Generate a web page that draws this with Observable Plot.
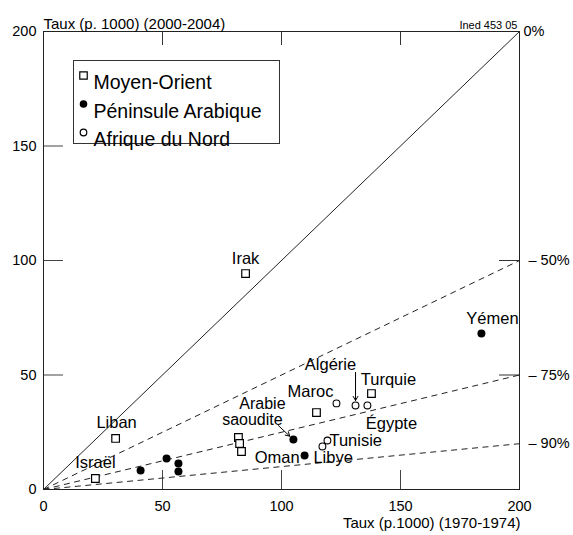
<!DOCTYPE html>
<html><head><meta charset="utf-8">
<script src="https://cdn.jsdelivr.net/npm/d3@7"></script>
<script src="https://cdn.jsdelivr.net/npm/@observablehq/plot@0.6"></script>
<style>body{margin:0;background:#fff} svg{font-family:"Liberation Sans",Arial,Helvetica,sans-serif}</style>
</head><body><div id="chart"></div>
<script>
const regions = ["Moyen-Orient", "Péninsule Arabique", "Afrique du Nord"];

// Taux (p.1000): x = 1970-1974, y = 2000-2004
const moyenOrient = [
  {pays: "Irak", x: 84.9, y: 94.3},
  {pays: "Liban", x: 30.3, y: 22.3},
  {pays: "Israël", x: 21.8, y: 4.8},
  {pays: "Turquie", x: 137.8, y: 41.9},
  {pays: "", x: 114.7, y: 33.6},
  {pays: "", x: 81.9, y: 22.7},
  {pays: "", x: 82.4, y: 20.1},
  {pays: "", x: 83.2, y: 16.6}
];
const peninsule = [
  {pays: "Yémen", x: 184.0, y: 68.1},
  {pays: "Arabie saoudite", x: 105.0, y: 21.8},
  {pays: "Oman", x: 109.7, y: 14.8},
  {pays: "", x: 40.8, y: 8.3},
  {pays: "", x: 51.7, y: 13.5},
  {pays: "", x: 56.7, y: 11.4},
  {pays: "", x: 56.7, y: 7.9}
];
const afriqueNord = [
  {pays: "Maroc", x: 123.1, y: 37.6},
  {pays: "Algérie", x: 131.1, y: 36.7},
  {pays: "Égypte", x: 136.1, y: 36.7},
  {pays: "Tunisie", x: 119.3, y: 21.4},
  {pays: "Libye", x: 117.2, y: 18.8}
];

const xTicks = [0, 50, 100, 150, 200];
const yTicks = [0, 50, 100, 150, 200];
const reductions = [0, -50, -75, -90];   // reference lines: y = x * (1 + r/100)
const rightLabels = ["0%", "– 50%", "– 75%", "– 90%"];
const arrows = [
  {pays: "Algérie", x1: 131.1, y1: 51.1},
  {pays: "Arabie saoudite", x1: 98.7, y1: 27.9}
];

// label placement (style, in pixels); multi-line labels are split into lines
const labelStyle = [
  {pays: "Irak", text: "Irak", dx: 0, dy: -15, anchor: "middle", size: 16.5},
  {pays: "Liban", text: "Liban", dx: 1, dy: -16, anchor: "middle", size: 16.5},
  {pays: "Israël", text: "Israël", dx: 0, dy: -16, anchor: "middle", size: 16.5},
  {pays: "Turquie", text: "Turquie", dx: 17, dy: -14, anchor: "middle", size: 16.5},
  {pays: "Yémen", text: "Yémen", dx: 11, dy: -15, anchor: "middle", size: 16.5},
  {pays: "Arabie saoudite", text: "Arabie", dx: -31, dy: -36, anchor: "middle", size: 16},
  {pays: "Arabie saoudite", text: "saoudite", dx: -41, dy: -20, anchor: "middle", size: 16},
  {pays: "Oman", text: "Oman", dx: -5, dy: 2, anchor: "end", size: 16.5},
  {pays: "Maroc", text: "Maroc", dx: -26, dy: -12, anchor: "middle", size: 16.5},
  {pays: "Algérie", text: "Algérie", dx: -25, dy: -41, anchor: "middle", size: 16.5},
  {pays: "Égypte", text: "Égypte", dx: 24, dy: 18, anchor: "middle", size: 16.5},
  {pays: "Tunisie", text: "Tunisie", dx: 2, dy: 0, anchor: "start", size: 16.5},
  {pays: "Libye", text: "Libye", dx: -9, dy: 11, anchor: "start", size: 16.5}
];

const W = 573, H = 535, mL = 43, mR = 54, mT = 31, mB = 46;
const pw = W - mL - mR, ph = H - mT - mB;
const all = [...moyenOrient, ...peninsule, ...afriqueNord];
const lookup = new Map(all.map(d => [d.pays, d]));

const labelMarks = labelStyle.map(s => {
  const d = lookup.get(s.pays);
  return Plot.text([d], {x: "x", y: "y", text: () => s.text, dx: s.dx, dy: s.dy, textAnchor: s.anchor,
    fontSize: s.size, fill: "black"});
});

const arrowData = arrows.map(a => ({...a, x2: lookup.get(a.pays).x, y2: lookup.get(a.pays).y}));

const legendMarks = [];
const legendSym = [
  {symbol: "square", fill: "white", stroke: "black", r: 4.2},
  {symbol: "circle", fill: "black", stroke: "none", r: 3.8},
  {symbol: "circle", fill: "white", stroke: "black", r: 3.3}
];
regions.forEach((reg, i) => {
  const s = legendSym[i];
  const dy = 44 + i * 28.5;
  legendMarks.push(Plot.dot([reg], {frameAnchor: "top-left", dx: 40, dy, symbol: s.symbol, r: s.r, fill: s.fill, stroke: s.stroke, strokeWidth: 1.2}));
  legendMarks.push(Plot.text([reg], {frameAnchor: "top-left", dx: 50, dy: dy, text: d => d, textAnchor: "start", fontSize: 19.5, fill: "black"}));
});

const chart = Plot.plot({
  width: W, height: H,
  marginLeft: mL, marginRight: mR, marginTop: mT, marginBottom: mB,
  x: {domain: [0, 200]},
  y: {domain: [0, 200]},
  style: {fontFamily: '"Liberation Sans", Arial, Helvetica, sans-serif', fontSize: "14.5px", color: "black", background: "white"},
  marks: [
    Plot.axisX({ticks: xTicks, tickSize: 0, tickPadding: 11, label: null, fontSize: 14.5}),
    Plot.axisY({ticks: yTicks, tickSize: 0, tickPadding: 7, label: null, fontSize: 14.5}),
    // inward ticks
    Plot.tickX(xTicks.slice(1, -1), {x: d => d, insetTop: ph - 19, stroke: "#444"}),
    Plot.tickX(xTicks.slice(1, -1), {x: d => d, insetBottom: ph - 14, stroke: "#333"}),
    Plot.tickY(yTicks.slice(1, -1), {y: d => d, insetRight: pw - 20, stroke: "#444"}),
    Plot.tickY(reductions.filter(r => r === -50 || r === -75), {y: r => 200 * (1 + r / 100), insetLeft: pw - 20, stroke: "#333"}),
    // reference lines
    Plot.link(reductions.filter(r => r === 0), {x1: 0, y1: 0, x2: 200, y2: r => 200 * (1 + r / 100), stroke: "#222", strokeWidth: 1}),
    Plot.link(reductions.filter(r => r !== 0), {x1: 0, y1: 0, x2: 200, y2: r => 200 * (1 + r / 100), stroke: "#222", strokeWidth: 1, strokeDasharray: "6,4.5"}),
    Plot.frame({stroke: "#222", strokeWidth: 1}),
    // right labels
    Plot.text(reductions.filter(r => r === 0), {x: 200, y: r => 200 * (1 + r / 100), text: () => rightLabels[0], textAnchor: "start", dx: 4, fontSize: 14.5, fill: "black"}),
    Plot.text(reductions.filter(r => r !== 0), {x: 200, y: r => 200 * (1 + r / 100), text: (r, i) => rightLabels[i + 1], textAnchor: "start", dx: 9, fontSize: 14.5, fill: "black"}),
    // points
    Plot.dot(moyenOrient, {x: "x", y: "y", symbol: "square", r: 4.3, fill: "white", stroke: "black", strokeWidth: 1.2}),
    Plot.dot(peninsule, {x: "x", y: "y", r: 4, fill: "black"}),
    Plot.dot(afriqueNord, {x: "x", y: "y", r: 3.4, fill: "white", stroke: "black", strokeWidth: 1.1}),
    Plot.arrow(arrowData, {x1: "x1", y1: "y1", x2: "x2", y2: "y2", insetEnd: 5, headLength: 7, stroke: "black", strokeWidth: 1}),
    ...labelMarks,
    // legend
    Plot.frame({insetLeft: 30, insetTop: 29, insetRight: pw - 236, insetBottom: ph - 112, stroke: "#333", strokeWidth: 1}),
    ...legendMarks,
    // titles
    Plot.text(["Taux (p. 1000) (2000-2004)"], {frameAnchor: "top-left", dx: 0, dy: -13, text: d => d, textAnchor: "start", fontSize: 15, fill: "black"}),
    Plot.text(["Taux (p.1000) (1970-1974)"], {frameAnchor: "bottom-right", dx: 1, dy: 38, text: d => d, textAnchor: "end", fontSize: 15, fill: "black"}),
    Plot.text(["Ined 453 05"], {frameAnchor: "top-right", dx: -2, dy: -10, text: d => d, textAnchor: "end", fontSize: 11, fill: "black"})
  ]
});
document.getElementById("chart").appendChild(chart);
</script>
</body></html>
